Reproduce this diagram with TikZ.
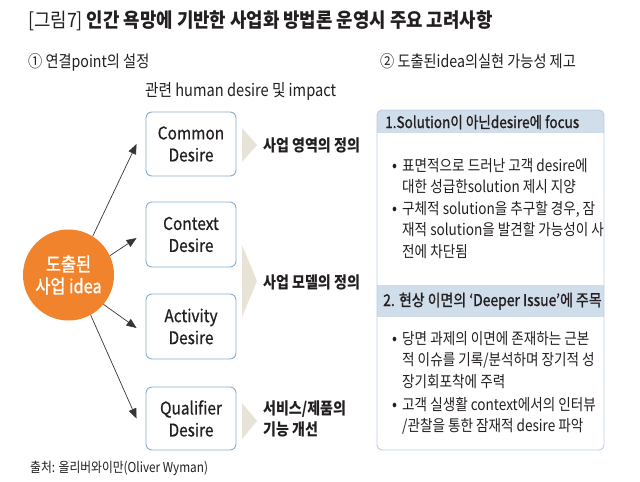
\documentclass[tikz,border=0pt]{standalone}
\usepackage{fontspec}
\setmainfont{Noto Sans CJK KR}[FakeStretch=0.86]
\newfontfamily\krmed{Noto Sans CJK KR}[FakeStretch=0.86,FakeBold=1.2]
\newfontfamily\krbox{Noto Sans CJK KR}[FakeStretch=0.88,FakeBold=0.6]
\newfontfamily\krtitle{Noto Sans CJK KR}[FakeStretch=0.9]
\usetikzlibrary{arrows.meta}
\definecolor{txt}{HTML}{231F20}
\definecolor{ideaorange}{HTML}{F0832B}
\definecolor{boxblue}{HTML}{86ADD4}
\definecolor{panelline}{HTML}{B9CDE1}
\definecolor{hdrfill}{HTML}{D0DDEA}
\definecolor{chevfill}{HTML}{E7E3D6}
\newcommand{\fs}[1]{\fontsize{#1}{#1}\selectfont}
\tikzset{
  desirebox/.style={draw=boxblue, line width=0.9pt, rounded corners=6pt,
    minimum width=90pt, align=center, text=txt, inner sep=0pt,
    font=\krbox\fontsize{17.5}{22}\selectfont},
  lbl/.style={anchor=base west, inner sep=0pt, text=txt},
  arr/.style={draw=txt!90, line width=0.7pt, -{Triangle[length=10pt,width=8pt]}},
  chev/.style={fill=chevfill},
}
\begin{document}
\begin{tikzpicture}[x=1pt,y=-1pt]
\useasboundingbox[fill=white] (0,0) rectangle (640,482);

% title and subheads
\node[lbl, font=\krtitle\fs{19.8}] (title) at (28,27) {[그림7] {\bfseries 인간 욕망에 기반한 사업화 방법론 운영시 주요 고려사항}};
\node[lbl, font=\fs{16.5}] (sub1) at (28,67) {① 연결point의 설정};
\node[lbl, font=\fs{16.5}] (sub2) at (380,67) {② 도출된idea의실현 가능성 제고};
\node[lbl, font=\fs{17}] (rel) at (145,96) {관련 human desire 및 impact};

% idea circle
\node[circle, fill=ideaorange, minimum size=91pt, inner sep=0pt, align=center,
      text=white, font=\krmed\fontsize{19}{22}\selectfont] (idea) at (68.5,275) {도출된\\사업 idea};

% desire boxes
\node[desirebox, minimum height=64pt] (common) at (191,144) {Common\\Desire};
\node[desirebox, minimum height=65pt] (context) at (191,234.5) {Context\\Desire};
\node[desirebox, minimum height=65pt] (activity) at (191,326.5) {Activity\\Desire};
\node[desirebox, minimum height=63pt] (qualifier) at (191,418.5) {Qualifier\\Desire};

% arrows
\draw[arr] (idea.58) -- ([xshift=-9pt]common.west);
\draw[arr] (idea.25) -- ([xshift=-9pt,yshift=-3.5pt]context.west);
\draw[arr] (idea.-40) -- ([xshift=-9pt,yshift=-1.5pt]activity.west);
\draw[arr] (idea.-61) -- ([xshift=-9pt]qualifier.west);

% chevrons
\fill[chev] (242,128) -- (257,145) -- (242,162) -- cycle;
\fill[chev] (242,245) -- (257,281) -- (242,317) -- cycle;
\fill[chev] (242,403) -- (257,421) -- (242,439) -- cycle;

% chevron labels
\node[anchor=west, inner sep=0pt, text=txt, font=\bfseries\fs{16.3}] (def1) at (263,145) {사업 영역의 정의};
\node[anchor=west, inner sep=0pt, text=txt, font=\bfseries\fs{16.3}] (def2) at (263,282) {사업 모델의 정의};
\node[anchor=west, inner sep=0pt, text=txt, align=left, font=\bfseries\fontsize{16.3}{21}\selectfont] (def3) at (263,419) {서비스/제품의\\기능 개선};

% right panel
\begin{scope}
\clip[rounded corners=5pt] (377,110) rectangle (604,450);
\fill[hdrfill] (377,110) rectangle (604,133);
\fill[hdrfill] (377,285) rectangle (604,317);
\end{scope}
\draw[panelline, line width=0.9pt, rounded corners=5pt] (377,110) rectangle (604,450);

\node[lbl, font=\krmed\fs{15.8}] (h1) at (385,128) {1.Solution이 아닌desire에 focus};
\node[lbl, font=\krmed\fs{16.2}] (h2) at (383,306) {2. 현상 이면의 ‘Deeper Issue’에 주목};

\newcommand{\bl}[1]{\begin{tabular}[t]{@{}l@{}}#1\end{tabular}}
\tikzset{btext/.style={lbl, font=\fontsize{15.8}{21.5}\selectfont}}
\node[lbl, font=\fs{17}] (d1) at (392,171) {•};
\node[btext] (b1) at (402,171) {\bl{표면적으로 드러난 고객 desire에\\대한 성급한solution 제시 지양}};
\node[lbl, font=\fs{17}] (d2) at (392,214) {•};
\node[btext] (b2) at (402,214) {\bl{구체적 solution을 추구할 경우, 잠\\재적 solution을 발견할 가능성이 사\\전에 차단됨}};
\node[lbl, font=\fs{17}] (d3) at (392,344) {•};
\node[btext] (b3) at (402,344) {\bl{당면 과제의 이면에 존재하는 근본\\적 이슈를 기록/분석하며 장기적 성\\장기회포착에 주력}};
\node[lbl, font=\fs{17}] (d4) at (392,410) {•};
\node[btext] (b4) at (402,410) {\bl{고객 실생활 context에서의 인터뷰\\/관찰을 통한 잠재적 desire 파악}};

% source
\node[lbl, font=\fs{13.7}] (src) at (30,472) {출처: 올리버와이만(Oliver Wyman)};
\end{tikzpicture}
\end{document}
